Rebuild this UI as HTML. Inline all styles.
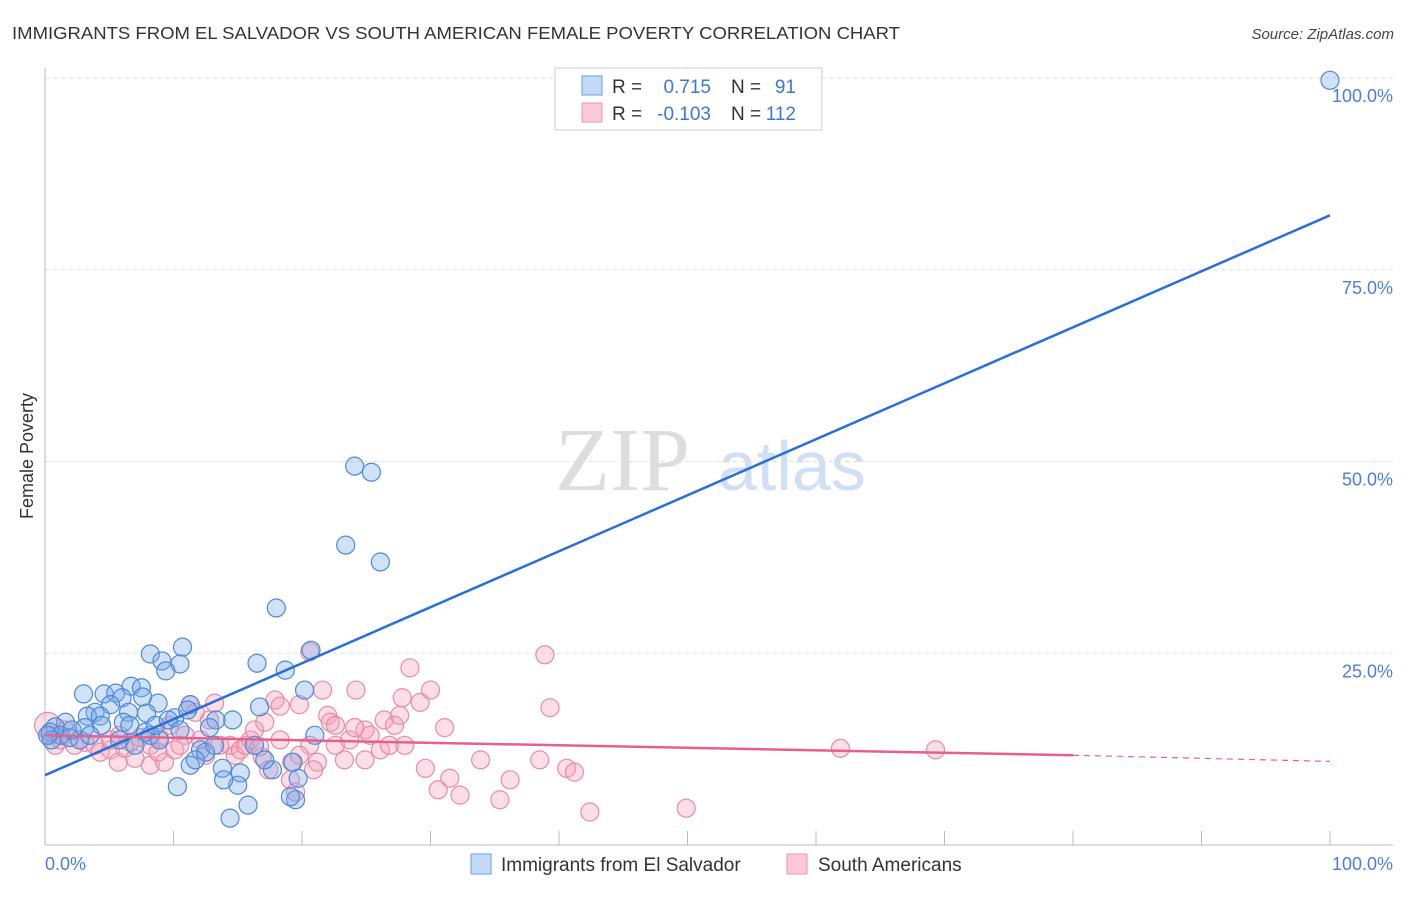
<!DOCTYPE html>
<html><head><meta charset="utf-8"><style>
body{margin:0;background:#fff;font-family:"Liberation Sans",sans-serif;}
svg text{font-family:"Liberation Sans",sans-serif;}
</style></head><body>
<svg id="chart" width="1406" height="892" viewBox="0 0 1406 892" xmlns="http://www.w3.org/2000/svg">
<text x="12" y="39" font-size="17.5" fill="#333" textLength="888" lengthAdjust="spacingAndGlyphs">IMMIGRANTS FROM EL SALVADOR VS SOUTH AMERICAN FEMALE POVERTY CORRELATION CHART</text>
<text x="1394" y="39" font-size="15" fill="#444" text-anchor="end" font-style="italic">Source: ZipAtlas.com</text>
<text x="555" y="490" font-size="90" fill="#ddd" style="font-family:'Liberation Serif',serif">ZIP</text>
<text x="718" y="490" font-size="70" fill="#cfe0f5">atlas</text>
<g id="grid"></g>
<g id="axes"></g>
<g id="pts"></g>
<g id="lines"></g>
<text transform="translate(33,456) rotate(-90)" font-size="18" fill="#333" text-anchor="middle">Female Poverty</text>
<text x="45" y="870" font-size="18" fill="#4a7fd4">0.0%</text>
<text x="1393" y="870" font-size="18" fill="#4a7fd4" text-anchor="end">100.0%</text>
<g>
<rect x="555" y="68" width="267" height="62" fill="#fff" stroke="#ccc"/>
<rect x="582" y="76" width="20" height="19" fill="#c5daf7" stroke="#6a9de0"/>
<rect x="582" y="103" width="20" height="19" fill="#fbcad7" stroke="#eb93ad"/>
<text x="612" y="93" font-size="19" fill="#333">R =</text>
<text x="711" y="93" font-size="19" fill="#3b78d6" text-anchor="end">0.715</text>
<text x="731" y="93" font-size="19" fill="#333">N =</text>
<text x="796" y="93" font-size="19" fill="#3b78d6" text-anchor="end">91</text>
<text x="612" y="120" font-size="19" fill="#333">R =</text>
<text x="711" y="120" font-size="19" fill="#3b78d6" text-anchor="end">-0.103</text>
<text x="731" y="120" font-size="19" fill="#333">N =</text>
<text x="796" y="120" font-size="19" fill="#3b78d6" text-anchor="end">112</text>
</g>
<g>
<rect x="471" y="854" width="20" height="20" fill="#c5daf7" stroke="#6a9de0"/>
<text x="501" y="871" font-size="19" fill="#333">Immigrants from El Salvador</text>
<rect x="787" y="854" width="20" height="20" fill="#fbcad7" stroke="#eb93ad"/>
<text x="818" y="871" font-size="19" fill="#333">South Americans</text>
</g>
</svg>
<script>
const blueX=[100,24.1,25.4,23.4,26.1,18.0,20.7,10.7,8.2,9.1,10.5,9.4,16.5,18.7,20.2,3.0,4.6,5.5,6.7,7.5,7.6,6.0,8.8,16.7,10.1,14.6,13.3,11.3,11.1,5.1,3.9,3.3,4.3,6.5,7.9,6.1,6.6,4.4,1.6,0.8,0.4,1.2,1.9,2.7,0.5,0.2,5.8,8.2,8.9,12.1,12.5,13.2,13.8,15.2,11.3,11.7,15.0,10.3,13.9,15.8,14.4,17.7,17.1,19.7,19.3,19.5,19.1,21.0,16.3,7.8,7.0,8.6,9.6,10.5,12.8,2.1,3.1,3.5];
const blueY=[99.7,49.4,48.6,39.1,36.9,30.9,25.4,25.8,24.9,24.0,23.6,22.7,23.7,22.8,20.2,19.7,19.7,19.8,20.7,20.5,19.3,19.2,18.5,18.0,16.6,16.3,16.3,18.3,17.6,18.3,17.3,16.8,16.8,17.3,17.2,16.0,15.6,15.6,16.0,15.4,14.7,14.3,14.0,13.7,13.7,14.3,13.7,14.3,13.7,12.4,12.1,13.0,10.0,9.4,10.4,11.1,7.8,7.6,8.5,5.2,3.5,9.8,11.1,8.7,10.8,5.9,6.3,14.3,13.0,14.7,13.0,15.6,16.3,15.0,15.3,15.0,15.3,14.3];
const pinkX=[0.2,0.4,0.8,1.2,1.6,2.3,3.1,3.9,4.3,5.1,5.7,6.2,7.4,8.2,8.9,8.2,9.3,10.1,10.9,11.3,11.7,12.8,13.2,14.4,14.8,15.2,15.6,16.0,16.3,17.1,17.9,18.3,16.9,17.4,19.1,19.5,20.6,21.6,19.8,20.6,21.2,22.0,22.2,22.6,23.3,23.7,24.2,24.9,25.3,24.9,26.1,26.4,26.8,27.2,27.6,27.8,28.0,28.4,29.2,29.6,30.0,30.6,31.1,31.5,32.3,33.9,35.4,36.2,38.9,39.3,38.5,40.6,41.2,42.4,49.9,61.9,69.3,5.1,6.6,9.7,12.1,13.6,10.5,8.8,12.5,7.0,5.8,16.7,18.3,19.2,19.8,20.9,22.6,24.1];
const pinkY=[15.6,14.3,13.0,13.7,15.0,13.0,13.4,13.0,12.1,12.4,10.8,12.6,14.0,13.0,14.0,10.4,10.8,12.4,14.3,18.3,17.3,16.3,18.5,13.0,11.7,12.4,13.0,13.7,15.0,16.0,18.9,18.1,11.5,9.8,8.5,6.9,25.2,20.2,18.3,13.0,10.8,16.9,16.0,15.6,11.1,13.7,20.2,15.0,14.3,11.1,12.4,16.3,13.0,15.6,16.9,19.2,13.0,23.1,18.6,10.0,20.2,7.2,15.3,8.7,6.5,11.1,5.9,8.5,24.8,17.9,11.1,10.0,9.5,4.3,4.8,12.6,12.4,13.7,13.4,15.6,13.7,13.0,13.0,12.1,11.7,11.3,14.3,12.8,13.7,10.8,11.7,9.8,13.0,15.3];
const blueFit=[9.1,82.1];
const pinkFit=[14.3,11.7,10.9];
const yTicks=[25,50,75,100];
const xTicks=[0,10,20,30,40,50,60,70,80,90,100];
const NS="http://www.w3.org/2000/svg";
const X=v=>45+v*12.85, Y=v=>845-v*7.67;
function mk(t,a,p){const e=document.createElementNS(NS,t);for(const k in a)e.setAttribute(k,a[k]);p.appendChild(e);return e;}
const grid=document.getElementById('grid'),axes=document.getElementById('axes'),pts=document.getElementById('pts'),lines=document.getElementById('lines');
yTicks.forEach(t=>{
  const l=mk('line',{x1:45,x2:1393,y1:Y(t),y2:Y(t),stroke:'#ddd','stroke-dasharray':'4,4'},grid);
  
  
  const tx=mk('text',{x:1393,y:Y(t)+24,'font-size':18,fill:'#4a7fd4','text-anchor':'end'},grid);
  tx.textContent=t.toFixed(1)+'%';
  
  
});
mk('line',{x1:45,x2:45,y1:68,y2:845,stroke:'#bbb'},axes);
mk('line',{x1:45,x2:1393,y1:845,y2:845,stroke:'#bbb'},axes);
xTicks.forEach(t=>{
  const l=mk('line',{x1:X(t),x2:X(t),y1:831,y2:845,stroke:'#bbb'},axes);
  
  
});
pinkX.forEach((v,i)=>{
  const c=mk('circle',{cx:X(v),cy:Y(pinkY[i]),r:i===0?13:9,fill:'rgba(245,160,185,0.35)',stroke:'#e88aa6','stroke-width':1.2},pts);
  
  
});
blueX.forEach((v,i)=>{
  const c=mk('circle',{cx:X(v),cy:Y(blueY[i]),r:9,fill:'rgba(120,170,235,0.35)',stroke:'#4a8ad8','stroke-width':1.2},pts);
  
  
});
const bl=mk('line',{x1:X(0),y1:Y(blueFit[0]),x2:X(100),y2:Y(blueFit[1]),stroke:'#2a6fd6','stroke-width':2.5},lines);


const pl=mk('line',{x1:X(0),y1:Y(pinkFit[0]),x2:X(80),y2:Y(pinkFit[1]),stroke:'#e8608a','stroke-width':2.5},lines);


const pd=mk('line',{x1:X(80),y1:Y(pinkFit[1]),x2:X(100),y2:Y(pinkFit[2]),stroke:'#e8608a','stroke-width':1.2,'stroke-dasharray':'6,5'},lines);


</script>
</body></html>
